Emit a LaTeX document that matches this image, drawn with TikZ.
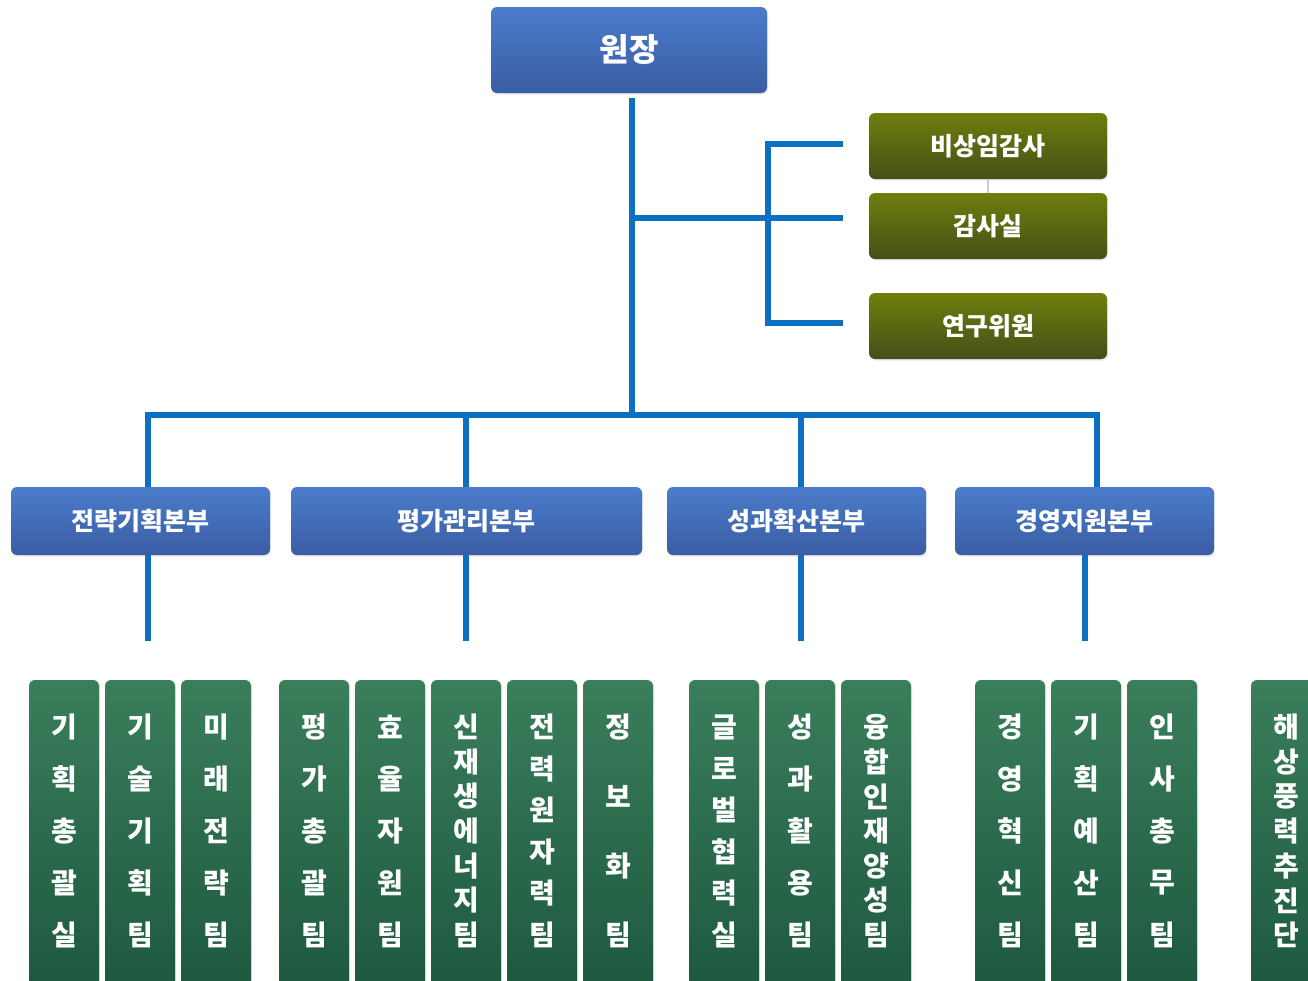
\documentclass[tikz,border=0pt]{standalone}
\usepackage{fontspec}
\newfontfamily\krfont{Noto Sans CJK KR}
\usetikzlibrary{shadows}

\definecolor{linkblue}{HTML}{0B70C1}
\definecolor{bluetop}{HTML}{4B7CCB}
\definecolor{bluebot}{HTML}{3A5DA3}
\definecolor{olivetop}{HTML}{6F7E0C}
\definecolor{olivebot}{HTML}{454F18}
\definecolor{teamtop}{HTML}{3A7E5B}
\definecolor{teambot}{HTML}{1D583F}

\tikzset{
  box/.style={rounded corners=3pt, inner sep=0pt, text=white,
    drop shadow={opacity=0.18, shadow xshift=0.6pt, shadow yshift=-0.8pt}},
  headbox/.style={box, top color=bluetop, bottom color=bluebot,
    font=\krfont\bfseries\fontsize{16}{18}\selectfont},
  divbox/.style={box, top color=bluetop, bottom color=bluebot, minimum height=34pt,
    font=\krfont\bfseries\fontsize{12.5}{14}\selectfont},
  auditbox/.style={box, top color=olivetop, bottom color=olivebot,
    minimum width=119pt, minimum height=33pt,
    font=\krfont\bfseries\fontsize{12.5}{14}\selectfont},
  teambox/.style={box, top color=teamtop, bottom color=teambot,
    minimum width=35pt, minimum height=155pt},
  teamtext/.style={text=white, inner sep=0pt, font=\krfont\bfseries\fontsize{14}{16}\selectfont},
  link/.style={draw=linkblue, line width=2.6pt}
}

% one column of a team: name, x, number of letters, letters
\newcommand\teamcol[4]{%
  \node[teambox] (#1) at (#2,835) {};
  \foreach \ch [count=\i] in {#4} {
    \node[teamtext] at (#2,{727+(\i-1)*208/(#3-1)}) {\ch};
  }
}

\begin{document}
\begin{tikzpicture}[x=0.5pt,y=-0.5pt]
\clip (0,0) rectangle (1308,981);
\fill[white] (0,0) rectangle (1308,981);

% top
\node[headbox, minimum width=138pt, minimum height=43pt] (head) at (629,50) {원장};

\node[auditbox] (audit1) at (988,146) {비상임감사};
\node[auditbox] (audit2) at (988,226) {감사실};
\node[auditbox] (audit3) at (988,326) {연구위원};
\draw[black!20, line width=0.6pt] (audit1.south) -- (audit2.north);

% divisions
\node[divbox, minimum width=129.5pt] (div1) at (140.5,521) {전략기획본부};
\node[divbox, minimum width=175.5pt] (div2) at (466.5,521) {평가관리본부};
\node[divbox, minimum width=129.5pt] (div3) at (796.5,521) {성과확산본부};
\node[divbox, minimum width=129.5pt] (div4) at (1084.5,521) {경영지원본부};

% connectors
\coordinate (j0) at (632,415);
\coordinate (tap) at (632,218);
\coordinate (brk) at (768,218);
\coordinate (a1) at (843,144);
\coordinate (a2) at (843,218);
\coordinate (a3) at (843,323);
\coordinate (j1) at (148,415);
\coordinate (j2) at (466,415);
\coordinate (j3) at (801,415);
\coordinate (j4) at (1097,415);
\coordinate (k1) at (148,641);
\coordinate (k2) at (466,641);
\coordinate (k3) at (801,641);
\coordinate (k4) at (1085,641);

\draw[link] ([yshift=-2.5pt]head.south -| j0) -- (j0);
\draw[link] (tap) -- (a2);
\draw[link] (a1) -- (a1 -| brk) -- (a3 -| brk) -- (a3);
\draw[link] (j1 |- div1.north) -- (j1) -- (j4) -- (j4 |- div4.north);
\draw[link] (j2) -- (j2 |- div2.north);
\draw[link] (j3) -- (j3 |- div3.north);
\draw[link] (k1 |- div1.south) -- (k1);
\draw[link] (k2 |- div2.south) -- (k2);
\draw[link] (k3 |- div3.south) -- (k3);
\draw[link] (k4 |- div4.south) -- (k4);

% teams
\teamcol{t11}{64}{5}{기,획,총,괄,실}
\teamcol{t12}{140}{5}{기,술,기,획,팀}
\teamcol{t13}{216}{5}{미,래,전,략,팀}

\teamcol{t21}{314}{5}{평,가,총,괄,팀}
\teamcol{t22}{390}{5}{효,율,자,원,팀}
\teamcol{t23}{466}{7}{신,재,생,에,너,지,팀}
\teamcol{t24}{542}{6}{전,력,원,자,력,팀}
\teamcol{t25}{618}{4}{정,보,화,팀}

\teamcol{t31}{724}{6}{글,로,벌,협,력,실}
\teamcol{t32}{800}{5}{성,과,활,용,팀}
\teamcol{t33}{876}{7}{융,합,인,재,양,성,팀}

\teamcol{t41}{1010}{5}{경,영,혁,신,팀}
\teamcol{t42}{1086}{5}{기,획,예,산,팀}
\teamcol{t43}{1162}{5}{인,사,총,무,팀}

\teamcol{t51}{1286}{7}{해,상,풍,력,추,진,단}

\end{tikzpicture}
\end{document}
